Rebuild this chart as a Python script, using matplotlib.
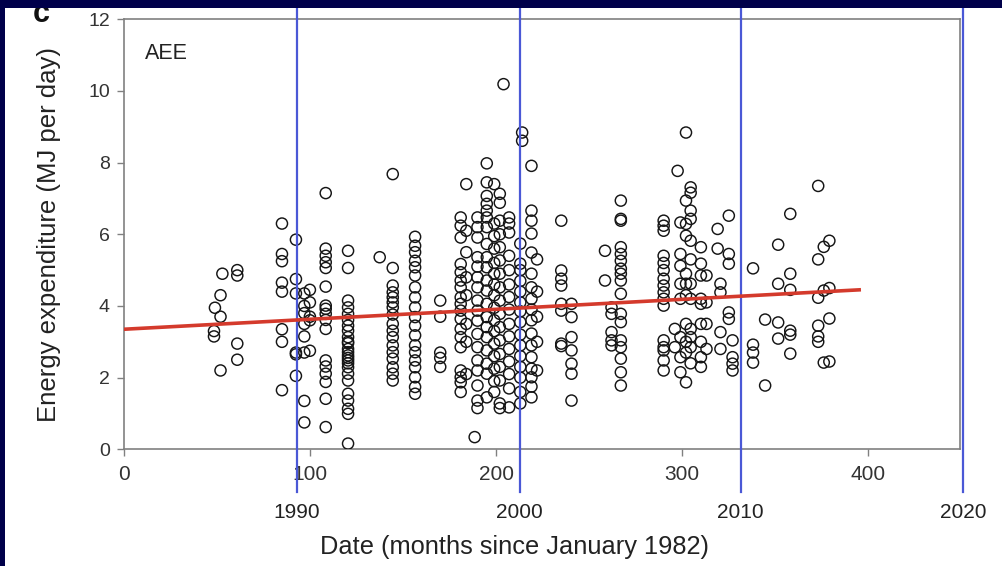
import matplotlib
matplotlib.use("Agg")
import matplotlib.pyplot as plt
import numpy as np
from matplotlib.patches import Rectangle

plt.rcParams['font.family'] = ['Liberation Sans', 'DejaVu Sans']

# columns of measurements: month since Jan 1982 -> AEE values (MJ/day)
col_months = [48.5, 49, 52, 53, 61,
              85, 92.5, 97, 100, 108.5, 120.5, 137.5, 144.5, 156.5, 170,
              181, 184, 188.5, 190, 195, 199, 202, 204, 207, 213, 214, 219, 222,
              235, 240.5, 258.5, 262, 267, 290,
              296, 297.5, 299, 302, 304.5, 310, 313, 319, 320.5, 325, 327,
              338, 344.5, 351.5, 358, 373, 376, 379]
col_values = [
    [3.3, 3.15], [3.95], [4.3, 3.7, 2.2], [4.9], [5.0, 4.85, 2.95, 2.5],
    [6.3, 5.45, 5.25, 4.65, 4.4, 3.35, 3.0, 1.65],
    [5.85, 4.75, 4.35, 2.7, 2.65, 2.05],
    [4.35, 4.0, 3.8, 3.5, 3.15, 2.7, 1.35, 0.75],
    [4.45, 4.1, 3.7, 3.6, 2.75],
    [7.15, 5.6, 5.4, 5.22, 5.06, 4.54, 4.01, 3.92, 3.78, 3.61, 3.36, 2.48,
     2.31, 2.11, 1.88, 1.41, 0.62],
    [5.54, 5.06, 4.15, 3.96, 3.78, 3.61, 3.45, 3.31, 3.13, 3.0, 2.96, 2.8,
     2.71, 2.62, 2.55, 2.48, 2.4, 2.29, 2.11, 1.92, 1.55, 1.36, 1.13, 0.99, 0.16],
    [5.36],
    [7.68, 5.06, 4.57, 4.38, 4.24, 4.1, 3.96, 3.76, 3.5, 3.31, 3.13, 2.9,
     2.71, 2.53, 2.29, 2.11, 1.92],
    [5.93, 5.68, 5.5, 5.26, 5.08, 4.85, 4.52, 4.24, 3.96, 3.69, 3.45, 3.18,
     2.9, 2.71, 2.48, 2.29, 2.01, 1.74, 1.55],
    [4.15, 3.7, 2.7, 2.55, 2.3],
    [6.47, 6.24, 5.91, 5.17, 4.94, 4.71, 4.52, 4.24, 4.06, 3.87, 3.64, 3.36,
     3.13, 2.85, 2.2, 2.01, 1.87, 1.6],
    [7.4, 6.1, 5.5, 4.8, 4.3, 3.5, 3.0, 2.1],
    [0.34],
    [6.47, 6.2, 5.91, 5.36, 5.1, 4.8, 4.52, 4.15, 3.87, 3.59, 3.22, 2.85,
     2.48, 2.2, 1.78, 1.36, 1.15],
    [7.98, 7.45, 7.07, 6.85, 6.66, 6.47, 6.2, 5.73, 5.36, 5.08, 4.71, 4.43,
     4.06, 3.69, 3.41, 3.13, 2.76, 2.39, 2.11, 1.45],
    [7.4, 6.3, 5.95, 5.6, 5.2, 4.9, 4.6, 4.3, 3.95, 3.6, 3.3, 2.95, 2.6,
     2.25, 1.9, 1.6],
    [7.13, 6.88, 6.38, 6.0, 5.64, 5.27, 4.9, 4.52, 4.15, 3.78, 3.41, 3.04,
     2.66, 2.3, 1.92, 1.28, 1.15],
    [10.19],
    [6.47, 6.3, 6.05, 5.4, 5.0, 4.6, 4.25, 3.9, 3.5, 3.15, 2.8, 2.45, 2.1,
     1.7, 1.17],
    [5.74, 5.18, 5.0, 4.7, 4.4, 4.1, 3.85, 3.55, 3.2, 2.9, 2.6, 2.3, 2.0,
     1.6, 1.28],
    [8.84, 8.61],
    [7.91, 6.66, 6.38, 6.02, 5.49, 4.9, 4.52, 4.2, 3.9, 3.6, 3.23, 2.9, 2.57,
     2.25, 2.01, 1.75, 1.45],
    [5.3, 4.4, 3.7, 3.0, 2.2],
    [6.38, 4.99, 4.76, 4.57, 4.06, 3.87, 2.95, 2.88],
    [4.06, 3.69, 3.13, 2.76, 2.39, 2.11, 1.36],
    [5.54, 4.71],
    [3.96, 3.78, 3.27, 3.04, 2.9],
    [6.94, 6.43, 6.38, 5.64, 5.45, 5.26, 5.04, 4.9, 4.71, 4.34, 3.78, 3.55,
     3.04, 2.85, 2.53, 2.15, 1.78],
    [6.38, 6.24, 6.1, 5.4, 5.2, 5.0, 4.76, 4.57, 4.38, 4.2, 4.01, 3.04, 2.85,
     2.76, 2.48, 2.2],
    [3.36, 2.85],
    [7.77],
    [6.33, 5.45, 5.12, 4.62, 4.2, 3.13, 2.57, 2.15],
    [8.84, 6.94, 6.29, 5.96, 4.9, 4.62, 4.3, 3.5, 3.0, 2.7, 1.87],
    [7.31, 7.16, 6.66, 6.43, 5.82, 5.3, 4.62, 4.2, 3.36, 3.13, 2.85, 2.4],
    [5.64, 5.18, 4.85, 4.2, 4.06, 3.5, 3.0, 2.57, 2.3],
    [4.85, 4.1, 3.5, 2.8],
    [6.15, 5.6],
    [4.62, 4.38, 3.27, 2.8],
    [6.52, 5.45, 5.18, 3.82, 3.64],
    [3.04, 2.57, 2.39, 2.2],
    [5.05, 2.92, 2.7, 2.42],
    [3.62, 1.78],
    [5.71, 4.62, 3.54, 3.09],
    [6.57, 4.9, 4.45, 3.31, 3.2, 2.67],
    [7.35, 5.3, 4.23, 3.45, 3.15, 3.0],
    [5.65, 4.43, 2.42],
    [5.82, 4.5, 3.65, 2.45],
]

trend_months = [0, 395]
trend_aee = [3.35, 4.45]

year_labels = ['1990', '2000', '2010', '2020']
year_months = [93, 212.7, 331.3, 451]

x = np.concatenate([np.full(len(v), m) for m, v in zip(col_months, col_values)])
y = np.concatenate([np.array(v) for v in col_values])

W, H = 1002, 566
fig = plt.figure(figsize=(W / 100, H / 100), dpi=100, facecolor='white')
ax = fig.add_axes([123.7 / W, 1 - 449.3 / H, 836 / W, 430 / H])

ax.scatter(x, y, s=64, facecolors='none', edgecolors='#151515',
           linewidths=1.05, zorder=3)
for m, lab in zip(year_months, year_labels):
    ax.axvline(m, ymin=-0.099, ymax=1.03, color='#4a58d6', lw=1.6,
               clip_on=False, zorder=4)
    ax.text(m, -0.147, lab, transform=ax.get_xaxis_transform(),
            ha='center', va='center', fontsize=15, color='#222222')
ax.plot(trend_months, trend_aee, color='#d43a2c', lw=2.6, zorder=5)

ax.set_xlim(0, 449)
ax.set_ylim(0, 12)
ax.set_xticks([0, 100, 200, 300, 400])
ax.set_yticks(range(0, 13, 2))
for s in ax.spines.values():
    s.set_color('#808080')
    s.set_linewidth(1.2)
ax.tick_params(direction='out', length=5, width=1, color='#808080',
               labelcolor='#333333')
ax.tick_params(axis='x', pad=6, labelsize=15)
ax.tick_params(axis='y', pad=5, labelsize=14)

ax.text(0.026, 0.92, 'AEE', transform=ax.transAxes, fontsize=15.5,
        va='center', color='#222222')

fig.text(49 / W, 1 - 234 / H, 'Energy expenditure (MJ per day)', rotation=90,
         ha='center', va='center', fontsize=18.5, color='#222222')
fig.text(515 / W, 1 - 547 / H, 'Date (months since January 1982)',
         ha='center', va='center', fontsize=18.3, color='#222222')
fig.text(41 / W, 1 - 14 / H, 'c', fontweight='bold', fontsize=22,
         ha='center', va='center', color='#111111', zorder=1)

# dark frame bands at top and left
fig.add_artist(Rectangle((0, 1 - 8 / H), 1, 8 / H, transform=fig.transFigure,
                         facecolor='#00004a', edgecolor='none', zorder=20))
fig.add_artist(Rectangle((0, 0), 5 / W, 1, transform=fig.transFigure,
                         facecolor='#00004a', edgecolor='none', zorder=20))

fig.savefig('out.png', dpi=100, facecolor=fig.get_facecolor())
